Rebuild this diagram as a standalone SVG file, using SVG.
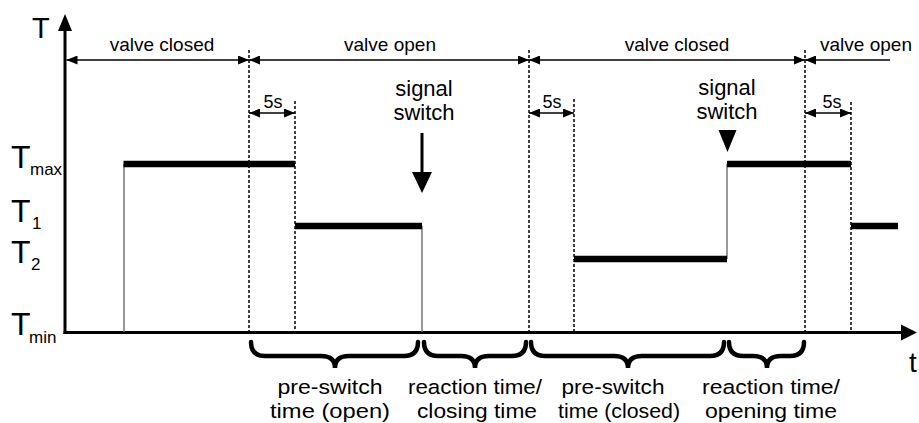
<svg xmlns="http://www.w3.org/2000/svg" width="919" height="423" viewBox="0 0 919 423">
<style>
text{font-family:"Liberation Sans",Arial,sans-serif;fill:#000}
.lab{font-size:19px;text-anchor:middle}
.s5{font-size:18px;text-anchor:middle}
.big{font-size:22px;text-anchor:middle}
.bl{font-size:20.5px;text-anchor:middle}
.T{font-size:32px}
.sub{font-size:17px}
.dim{stroke:#000;stroke-width:1.5;fill:none}
.dot{stroke:#000;stroke-width:1.5;stroke-dasharray:3 2;fill:none}
.thin{stroke:#777;stroke-width:1.5;fill:none}
.sig{stroke:#000;stroke-width:6.5;fill:none}
.axis{stroke:#000;stroke-width:3;fill:none}
.brace{stroke:#000;stroke-width:4.5;fill:none;stroke-linecap:round}
</style>
<defs>
<marker id="ah" markerUnits="userSpaceOnUse" markerWidth="11" markerHeight="9" refX="11" refY="4.5" orient="auto-start-reverse">
<path d="M0,0 L11,4.5 L0,9 z" fill="#000"/>
</marker>
</defs>
<g id="axes">
<line class="axis" x1="65" y1="28" x2="65" y2="334"/>
<polygon points="65,14 58,31 72,31" fill="#000"/>
<line class="axis" x1="63.5" y1="332.5" x2="903" y2="332.5"/>
<polygon points="917,332.5 901,324.5 901,340.5" fill="#000"/>
<text x="32" y="38" style="font-size:29px">T</text>
<text x="909" y="372" style="font-size:28px">t</text>
</g>
<g id="ylabels">
<text class="T" x="11" y="168">T</text><text class="sub" x="30" y="175">max</text>
<text class="T" x="11" y="222">T</text><text class="sub" x="32" y="229">1</text>
<text class="T" x="11" y="263">T</text><text class="sub" x="31" y="270">2</text>
<text class="T" x="11" y="335">T</text><text class="sub" x="29" y="343">min</text>
</g>
<g id="guides">
<line class="dot" x1="249" y1="50" x2="249" y2="331"/>
<line class="dot" x1="295" y1="101" x2="295" y2="331"/>
<line class="dot" x1="529" y1="50" x2="529" y2="331"/>
<line class="dot" x1="574" y1="99" x2="574" y2="331"/>
<line class="dot" x1="805" y1="50" x2="805" y2="331"/>
<line class="dot" x1="851" y1="102" x2="851" y2="331"/>
</g>
<g id="connectors">
<line class="dim" x1="66.5" y1="60" x2="249" y2="60" marker-start="url(#ah)" marker-end="url(#ah)"/>
<line class="dim" x1="249" y1="60" x2="529" y2="60" marker-start="url(#ah)" marker-end="url(#ah)"/>
<line class="dim" x1="529" y1="60" x2="805" y2="60" marker-start="url(#ah)" marker-end="url(#ah)"/>
<line class="dim" x1="805" y1="60" x2="890" y2="60" marker-start="url(#ah)"/>
<line class="dim" x1="249" y1="113" x2="295" y2="113" marker-start="url(#ah)" marker-end="url(#ah)"/>
<line class="dim" x1="529" y1="113" x2="574" y2="113" marker-start="url(#ah)" marker-end="url(#ah)"/>
<line class="dim" x1="805" y1="113" x2="851" y2="113" marker-start="url(#ah)" marker-end="url(#ah)"/>
<line x1="422" y1="133" x2="422" y2="175" stroke="#000" stroke-width="3"/>
<polygon points="422,193 412,172 432,172" fill="#000"/>
<polygon points="727.5,152 718.5,130 736.5,130" fill="#000"/>
</g>
<g id="phase-labels">
<text class="lab" x="162" y="51">valve closed</text>
<text class="lab" x="390" y="51">valve open</text>
<text class="lab" x="677" y="51">valve closed</text>
<text class="lab" x="866" y="51">valve open</text>
<text class="s5" x="273" y="108">5s</text>
<text class="s5" x="552" y="108">5s</text>
<text class="s5" x="832" y="108">5s</text>
</g>
<g id="signal-switch-1">
<text class="big" x="424" y="96">signal</text>
<text class="big" x="424" y="120">switch</text>
</g>
<g id="signal-switch-2">
<text class="big" x="727" y="95">signal</text>
<text class="big" x="727" y="119">switch</text>
</g>
<g id="signal">
<line class="thin" x1="124" y1="164" x2="124" y2="332"/>
<line class="thin" x1="422" y1="226" x2="422" y2="332"/>
<line class="thin" x1="727" y1="164" x2="727" y2="259"/>
<line class="sig" x1="123.5" y1="164" x2="295" y2="164"/>
<line class="sig" x1="295" y1="226" x2="422" y2="226"/>
<line class="sig" x1="574" y1="259" x2="727" y2="259"/>
<line class="sig" x1="727" y1="164" x2="851" y2="164"/>
<line class="sig" x1="851" y1="226" x2="898" y2="226"/>
</g>
<g id="braces">
<path class="brace" d="M251,342 Q251,356 265,356 L321,356 Q335,356 335,368 Q335,356 349,356 L404,356 Q418,356 418,342"/>
<path class="brace" d="M424,342 Q424,356 438,356 L461,356 Q475,356 475,368 Q475,356 489,356 L512,356 Q526,356 526,342"/>
<path class="brace" d="M531,342 Q531,356 545,356 L614,356 Q628,356 628,368 Q628,356 642,356 L710,356 Q724,356 724,342"/>
<path class="brace" d="M729,342 Q729,356 743,356 L753,356 Q767,356 767,368 Q767,356 781,356 L790,356 Q804,356 804,342"/>
</g>
<g id="brace-labels">
<text class="bl" x="330" y="394" textLength="105" lengthAdjust="spacingAndGlyphs">pre-switch</text>
<text class="bl" x="330" y="418" textLength="120" lengthAdjust="spacingAndGlyphs">time (open)</text>
<text class="bl" x="475" y="394" textLength="134" lengthAdjust="spacingAndGlyphs">reaction time/</text>
<text class="bl" x="477" y="418" textLength="120" lengthAdjust="spacingAndGlyphs">closing time</text>
<text class="bl" x="613" y="394" textLength="103" lengthAdjust="spacingAndGlyphs">pre-switch</text>
<text class="bl" x="619" y="418" textLength="122" lengthAdjust="spacingAndGlyphs">time (closed)</text>
<text class="bl" x="771" y="394" textLength="138" lengthAdjust="spacingAndGlyphs">reaction time/</text>
<text class="bl" x="771" y="418" textLength="132" lengthAdjust="spacingAndGlyphs">opening time</text>
</g>
</svg>
